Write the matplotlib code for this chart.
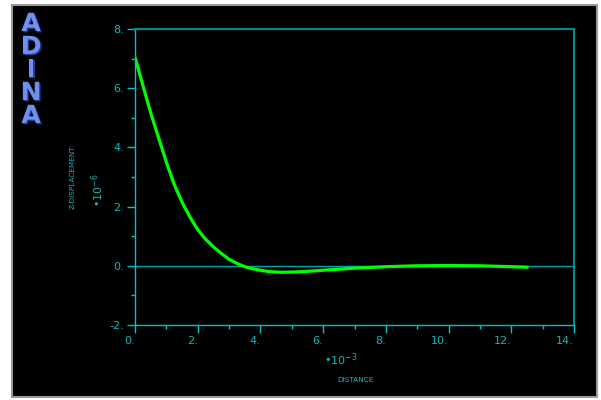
import matplotlib
matplotlib.use('Agg')
import matplotlib.pyplot as plt
import matplotlib.patheffects as pe
from matplotlib.patches import Rectangle

# ---------------------------------------------------------------------------
# Data (x in 1e-3, z in 1e-6)
# ---------------------------------------------------------------------------
DISTANCE = [0.0, 0.25, 0.5, 0.75, 1.0, 1.25, 1.5, 1.75, 2.0, 2.25, 2.5,
            2.75, 3.0, 3.25, 3.5, 3.75, 4.0, 4.3, 4.7, 5.3, 6.0, 7.0, 8.0,
            9.0, 10.0, 11.0, 12.0, 12.55]
Z_DISP = [7.05, 6.1, 5.17, 4.33, 3.5, 2.75, 2.15, 1.65, 1.22, 0.9, 0.64,
          0.42, 0.22, 0.08, -0.03, -0.1, -0.15, -0.2, -0.22, -0.2, -0.15,
          -0.08, -0.03, 0.0, 0.01, 0.0, -0.03, -0.05]
X_TICKS = [0, 2, 4, 6, 8, 10, 12, 14]
Y_TICKS = [-2, 0, 2, 4, 6, 8]
LOGO = 'ADINA'

BG = '#000000'
CYAN = '#00c4c4'
TEAL = '#008c8c'
LABEL = '#19b4b4'
CURVE = '#00ff00'
LOGO_COLOR = '#7090f0'

W, H = 601, 400
fig = plt.figure(figsize=(W / 100, H / 100), dpi=100)
fig.patch.set_facecolor('white')

# black panel with grey frame
fig.patches.append(Rectangle((12 / W, 1 - 397 / H), 585 / W, 392 / H,
                             transform=fig.transFigure, facecolor=BG,
                             edgecolor='#9a9a9a', linewidth=1.5, zorder=-10))

ax = fig.add_axes([135 / W, 1 - 325 / H, 439 / W, 296 / H])
ax.set_facecolor(BG)
ax.set_xlim(0, 14)
ax.set_ylim(-2, 8)

ax.axhline(0, color='#00a0a8', linewidth=1.0, zorder=1)
ax.plot(DISTANCE, Z_DISP, color=CURVE, linewidth=2.3, zorder=2,
        solid_joinstyle='round', solid_capstyle='butt')

for side in ['left', 'bottom']:
    ax.spines[side].set_color(CYAN)
    ax.spines[side].set_linewidth(1.0)
for side in ['top', 'right']:
    ax.spines[side].set_color(TEAL)
    ax.spines[side].set_linewidth(1.5)

ax.set_xticks(X_TICKS)
ax.set_yticks(Y_TICKS)
ax.set_xticks(range(1, 14, 2), minor=True)
ax.set_yticks(range(-1, 8, 2), minor=True)
ax.set_xticklabels([f'{v}.' for v in X_TICKS])
ax.set_yticklabels([f'{v}.' for v in Y_TICKS])
ax.tick_params(which='major', direction='out', length=6, width=1,
               color=CYAN, labelcolor=LABEL, labelsize=8, pad=2)
ax.tick_params(which='minor', direction='out', length=3, width=1, color=CYAN)
for lab in ax.get_xticklabels():
    lab.set_horizontalalignment('right')

# axis titles
fig.text(73 / W, 1 - 177 / H, 'Z-DISPLACEMENT', rotation=90, color=LABEL,
         fontsize=5.2, ha='center', va='center')
fig.text(98 / W, 1 - 190 / H, '•10$^{-6}$', rotation=90, color=LABEL,
         fontsize=8, ha='center', va='center')
fig.text(341 / W, 1 - 360 / H, '•10$^{-3}$', color=LABEL,
         fontsize=8, ha='center', va='center')
fig.text(355 / W, 1 - 380 / H, 'DISTANCE', color=LABEL,
         fontsize=5.2, ha='center', va='center')

# ADINA logo
for i, ch in enumerate(LOGO):
    fig.text(31 / W, 1 - (24 + i * 23) / H, ch, color=LOGO_COLOR,
             fontsize=18, fontweight='bold', ha='center', va='center',
             path_effects=[pe.SimplePatchShadow(offset=(1, -1),
                                                shadow_rgbFace='#203c90',
                                                alpha=1.0),
                           pe.Normal()])

fig.savefig('out.png', dpi=100, facecolor='white')
